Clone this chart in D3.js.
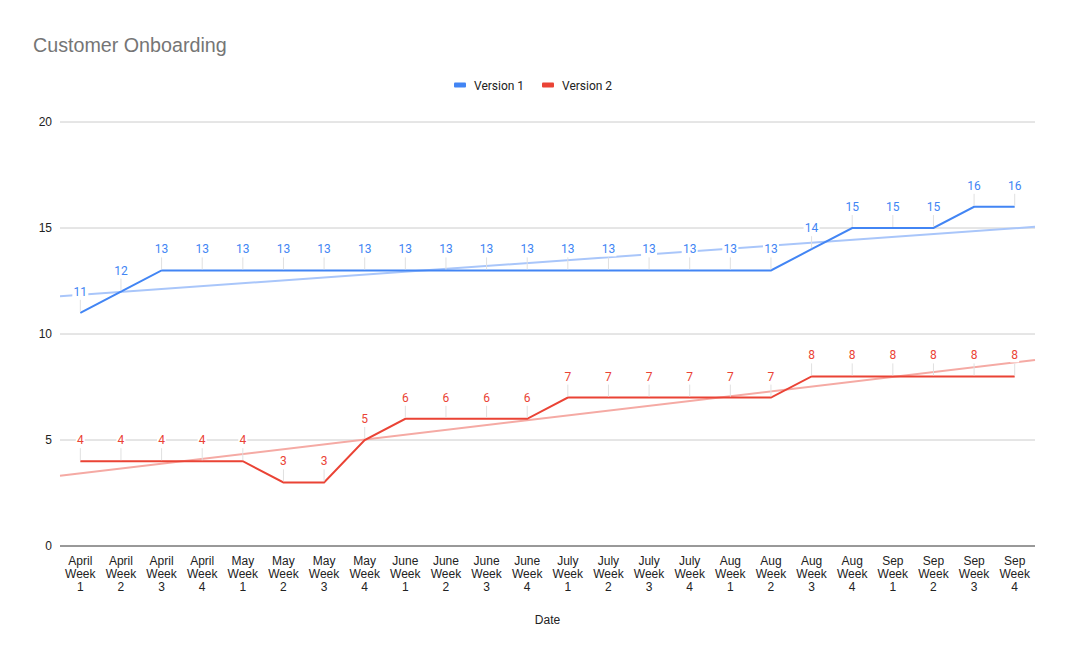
<!DOCTYPE html>
<html>
<head>
<meta charset="utf-8">
<script src="https://cdn.jsdelivr.net/npm/d3@7"></script>
<style>
  body { margin: 0; background: #fff; }
  svg { display: block; }
</style>
</head>
<body>
<div id="chart"></div>
<script>
// chart data
var months = ["April", "May", "June", "July", "Aug", "Sep"];
var weeks = ["1", "2", "3", "4"];
var categories = [];
months.forEach(function(m) {
  weeks.forEach(function(w) { categories.push(m + " Week " + w); });
});

var version1 = [11, 12, 13, 13, 13, 13, 13, 13, 13, 13, 13, 13, 13, 13, 13, 13, 13, 13, 14, 15, 15, 15, 16, 16];
var version2 = [4, 4, 4, 4, 4, 3, 3, 5, 6, 6, 6, 6, 7, 7, 7, 7, 7, 7, 8, 8, 8, 8, 8, 8];
var yTicks = [0, 5, 10, 15, 20];

var seriesList = [
  { name: "Version 1", values: version1, color: "#4285F4", trend: "#a9c6fa" },
  { name: "Version 2", values: version2, color: "#EA4335", trend: "#f5aaa4" }
];

var width = 1068, height = 660;
var margin = { left: 60, right: 33, top: 122, bottom: 114 };

var svg = d3.select("#chart").append("svg")
  .attr("width", width)
  .attr("height", height);

var x = d3.scaleBand()
  .domain(categories)
  .range([margin.left, width - margin.right]);

var y = d3.scaleLinear()
  .domain([0, 20])
  .range([height - margin.bottom, margin.top]);

var cx = function(i) { return x(categories[i]) + x.bandwidth() / 2; };

// title
svg.append("text")
  .attr("x", 33).attr("y", 52)
  .style("font-family", "'Liberation Sans', Arial, sans-serif")
  .style("font-size", "19.7px")
  .style("fill", "#757575")
  .text("Customer Onboarding");

// legend
var legend = svg.append("g").attr("transform", "translate(454,85)");
var lx = 0;
seriesList.forEach(function(s) {
  legend.append("rect")
    .attr("x", lx).attr("y", -2.5)
    .attr("width", 12).attr("height", 5)
    .attr("rx", 1)
    .style("fill", s.color);
  legend.append("text")
    .attr("x", lx + 20).attr("y", 4.5)
    .style("font-family", "Roboto, sans-serif")
    .style("font-size", "12px")
    .style("fill", "#222")
    .text(s.name);
  lx += 88;
});

// grid
svg.append("g").selectAll("line")
  .data(yTicks.filter(function(d) { return d > 0; }))
  .enter().append("line")
  .attr("x1", margin.left).attr("x2", width - margin.right)
  .attr("y1", function(d) { return y(d); })
  .attr("y2", function(d) { return y(d); })
  .style("stroke", "#cccccc")
  .style("stroke-width", 1);

// y axis labels
var yAxis = d3.axisLeft(y).tickValues(yTicks).tickSize(0).tickPadding(8);
svg.append("g")
  .attr("transform", "translate(" + margin.left + ",0)")
  .call(yAxis)
  .call(function(g) { g.select(".domain").remove(); })
  .selectAll("text")
  .style("font-family", "'Liberation Sans', Arial, sans-serif")
  .style("font-size", "12px")
  .style("fill", "#222");

// trendlines (linear least squares over category index)
function regression(vals) {
  var mx = d3.mean(vals, function(d, i) { return i; });
  var my = d3.mean(vals);
  var sxy = 0, sxx = 0;
  vals.forEach(function(v, i) { sxy += (i - mx) * (v - my); sxx += (i - mx) * (i - mx); });
  var slope = sxy / sxx;
  return { slope: slope, intercept: my - slope * mx };
}

var step = x.step();
seriesList.forEach(function(s) {
  var r = regression(s.values);
  var i0 = -0.5, i1 = s.values.length - 0.5;
  svg.append("line")
    .attr("x1", cx(0) + i0 * step)
    .attr("x2", cx(0) + i1 * step)
    .attr("y1", y(r.intercept + r.slope * i0))
    .attr("y2", y(r.intercept + r.slope * i1))
    .style("stroke", s.trend)
    .style("stroke-width", 2);
});

// series lines
var line = d3.line()
  .x(function(d, i) { return cx(i); })
  .y(function(d) { return y(d); });

seriesList.forEach(function(s) {
  svg.append("path")
    .datum(s.values)
    .attr("d", line)
    .style("fill", "none")
    .style("stroke", s.color)
    .style("stroke-width", 2);
});

// data labels with leader lines
seriesList.forEach(function(s) {
  var g = svg.append("g");
  s.values.forEach(function(v, i) {
    var px = cx(i), py = y(v);
    g.append("line")
      .attr("x1", px).attr("x2", px)
      .attr("y1", py - 13).attr("y2", py - 1)
      .style("stroke", "#e0e0e0")
      .style("stroke-width", 1);
    var label = String(v);
    var w = label.length * 7 + 2;
    g.append("rect")
      .attr("x", px - w / 2).attr("y", py - 29)
      .attr("width", w).attr("height", 15)
      .style("fill", "#fff");
    g.append("text")
      .attr("x", px).attr("y", py - 17)
      .attr("text-anchor", "middle")
      .style("font-family", "Roboto, sans-serif")
      .style("font-size", "12px")
      .style("fill", s.color)
      .text(label);
  });
});

// baseline
svg.append("line")
  .attr("x1", margin.left).attr("x2", width - margin.right)
  .attr("y1", y(0)).attr("y2", y(0))
  .style("stroke", "#333")
  .style("stroke-width", 1);

// x axis labels (three lines each)
var xl = svg.append("g");
categories.forEach(function(c, i) {
  var parts = [c.split(" ")[0], "Week", c.split(" ")[2]];
  var t = xl.append("text")
    .attr("text-anchor", "middle")
    .style("font-family", "'Liberation Sans', Arial, sans-serif")
    .style("font-size", "12px")
    .style("fill", "#222");
  parts.forEach(function(p, k) {
    t.append("tspan")
      .attr("x", cx(i))
      .attr("y", y(0) + 19 + k * 13)
      .text(p);
  });
});

// x axis title
svg.append("text")
  .attr("x", (margin.left + width - margin.right) / 2)
  .attr("y", 624)
  .attr("text-anchor", "middle")
  .style("font-family", "'Liberation Sans', Arial, sans-serif")
  .style("font-size", "12px")
  .style("fill", "#222")
  .text("Date");
</script>
</body>
</html>
